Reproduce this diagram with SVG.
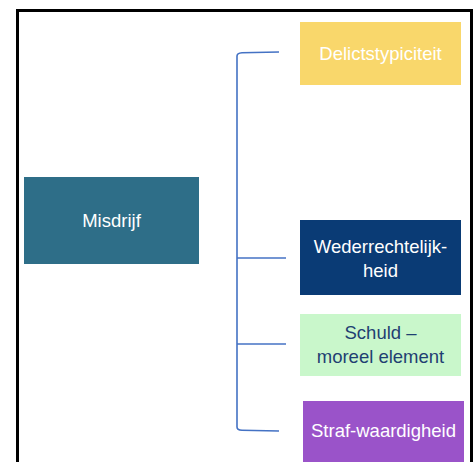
<svg xmlns="http://www.w3.org/2000/svg" width="473" height="462" viewBox="0 0 473 462">
<style>
.t{font-family:"Liberation Sans",Arial,sans-serif;font-size:18.5px;text-anchor:middle}
.w{fill:#ffffff}
.d{fill:#1F3F72}
.c{fill:none;stroke:#4472C4;stroke-width:1.6}
</style>
<rect x="0" y="0" width="473" height="462" fill="#ffffff"/>
<rect x="17.5" y="10.5" width="454" height="470" fill="none" stroke="#000000" stroke-width="3"/>
<g id="connectors">
<path class="c" d="M279,52 L242,52.7 Q237,53 237,56 L237,427 Q237,430 242,430.2 L279,431"/>
<path class="c" d="M237,258 L286,258"/>
<path class="c" d="M237,344 L286,344"/>
</g>
<g id="misdrijf">
<rect x="24" y="177" width="175" height="87" fill="#2E6E88"/>
<text class="t w" x="111.5" y="227">Misdrijf</text>
</g>
<g id="delictstypiciteit">
<rect x="300" y="22" width="161" height="63" fill="#F9D76B"/>
<text class="t w" x="380.5" y="60">Delictstypiciteit</text>
</g>
<g id="wederrechtelijkheid">
<rect x="300" y="220" width="161" height="75" fill="#0A3B75"/>
<text class="t w" x="380.5" y="253">Wederrechtelijk-</text>
<text class="t w" x="380.5" y="277">heid</text>
</g>
<g id="schuld">
<rect x="300" y="314" width="161" height="62" fill="#C9F7CB"/>
<text class="t d" x="380.5" y="339">Schuld –</text>
<text class="t d" x="380.5" y="363">moreel element</text>
</g>
<g id="strafwaardigheid">
<rect x="303" y="401" width="161" height="70" fill="#9A53C9"/>
<text class="t w" x="383.5" y="437">Straf-waardigheid</text>
</g>
</svg>
